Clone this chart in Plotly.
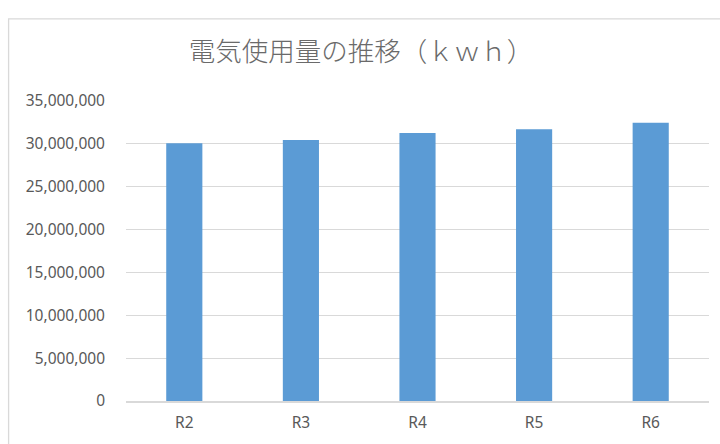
import plotly.graph_objects as go

# 年度別の電気使用量（kWh）
years = ["R2", "R3", "R4", "R5", "R6"]
usage_kwh = [30080000, 30460000, 31270000, 31700000, 32460000]
y_ticks = [0, 5000000, 10000000, 15000000, 20000000, 25000000, 30000000, 35000000]
y_tick_labels = ["0", "5,000,000", "10,000,000", "15,000,000", "20,000,000",
                 "25,000,000", "30,000,000", "35,000,000"]

W, H = 720, 444
L, R, T, B = 125.5, 11, 101, 40
plot_w = W - L - R
plot_h = H - T - B

fig = go.Figure(
    go.Bar(
        x=years,
        y=usage_kwh,
        width=0.31,
        marker=dict(color="#5b9bd5", line=dict(width=0)),
        hoverinfo="x+y",
    )
)

label_font = dict(family="Noto Sans, DejaVu Sans, sans-serif", size=15.5, color="#595959")

fig.update_layout(
    width=W,
    height=H,
    margin=dict(l=L, r=R, t=T, b=B),
    paper_bgcolor="white",
    plot_bgcolor="white",
    showlegend=False,
    title=dict(
        text="電気使用量の推移（ｋｗｈ）",
        x=361 / W,
        xanchor="center",
        y=1 - 52 / H,
        yanchor="middle",
        font=dict(family="Noto Sans CJK JP", size=26.5, color="#6a6a6a", weight=300),
    ),
    xaxis=dict(
        showgrid=False,
        showline=True,
        linecolor="#d9d9d9",
        linewidth=1.5,
        ticks="",
        tickfont=label_font,
        ticklabelstandoff=7,
    ),
    yaxis=dict(
        range=[0, 35000000],
        tickvals=y_ticks,
        ticktext=y_tick_labels,
        showgrid=True,
        gridcolor="#d9d9d9",
        gridwidth=1.3,
        zeroline=False,
        showline=False,
        ticks="",
        tickfont=label_font,
        ticklabelstandoff=20,
    ),
    shapes=[
        # グラフエリアの枠線
        dict(
            type="rect",
            xref="paper",
            yref="paper",
            x0=(8 - L) / plot_w,
            x1=1.2,
            y0=-0.4,
            y1=(H - B - 18) / plot_h,
            line=dict(color="#d9d9d9", width=1.3),
            fillcolor="rgba(0,0,0,0)",
            layer="below",
        )
    ],
)

fig.write_html("out.html")
